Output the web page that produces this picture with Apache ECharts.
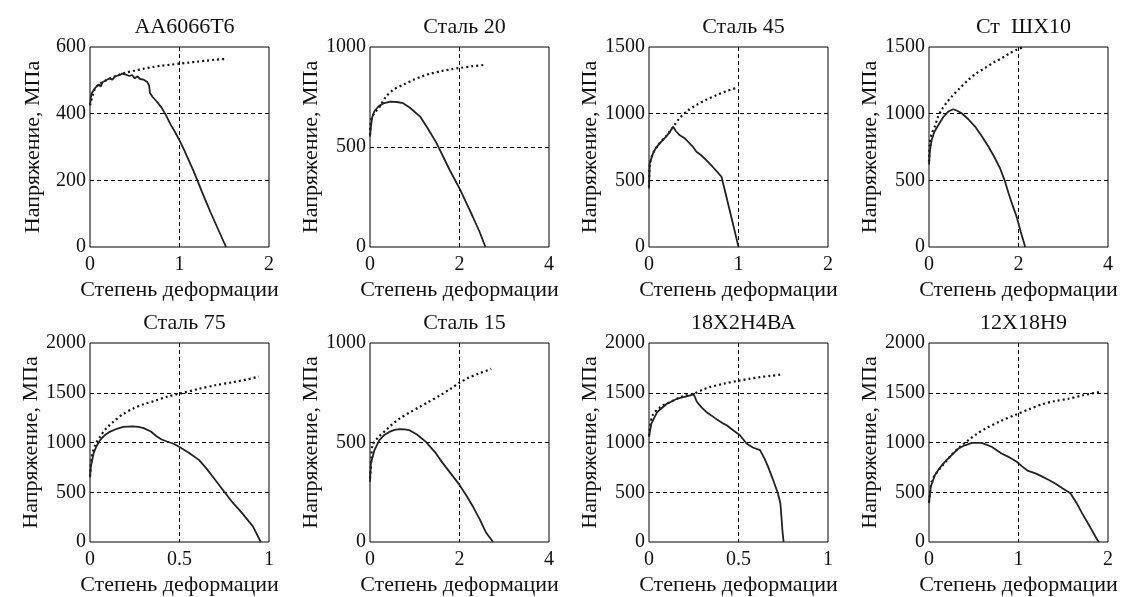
<!DOCTYPE html>
<html>
<head>
<meta charset="utf-8">
<script src="https://cdn.jsdelivr.net/npm/echarts@6/dist/echarts.min.js"></script>
<style>
  html, body { margin: 0; padding: 0; background: #fff; }
  #main { width: 1125px; height: 597px; }
</style>
</head>
<body>
<div id="main"></div>
<script>
// кривые: [степень деформации, напряжение МПа]
var titles = ['AA6066T6', 'Сталь 20', 'Сталь 45', 'Ст  ШХ10', 'Сталь 75', 'Сталь 15', '18Х2Н4ВА', '12Х18Н9'];
var xMax = [2, 4, 2, 4, 1, 4, 1, 2];
var xStep = [1, 2, 1, 2, 0.5, 2, 0.5, 1];
var yMax = [600, 1000, 1500, 1500, 2000, 1000, 2000, 2000];
var yStep = [200, 500, 500, 500, 500, 500, 500, 500];

var aa6066Solid = [[0,425],[0.01,450],[0.02,462],[0.04,470],[0.06,478],[0.08,472],[0.1,488],[0.12,481],[0.14,494],[0.16,489],[0.18,500],[0.2,496],[0.22,506],[0.25,502],[0.28,512],[0.3,508],[0.33,516],[0.36,520],[0.4,517],[0.44,513],[0.47,516],[0.5,506],[0.53,512],[0.56,504],[0.6,502],[0.64,495],[0.66,485],[0.67,462],[0.7,450],[0.75,435],[0.8,418],[0.85,395],[0.9,368],[0.95,345],[1.0,320],[1.05,292],[1.1,262],[1.15,232],[1.2,200],[1.25,166],[1.3,134],[1.35,102],[1.4,72],[1.45,42],[1.52,0]];
var aa6066Dot = [[0,425],[0.05,472],[0.1,488],[0.2,503],[0.3,514],[0.4,523],[0.5,529],[0.6,535],[0.7,540],[0.8,544],[0.9,547],[1.0,550],[1.1,553],[1.2,556],[1.3,559],[1.4,562],[1.52,564]];

var st20Solid = [[0,552],[0.02,600],[0.05,650],[0.1,680],[0.2,705],[0.3,718],[0.45,727],[0.6,725],[0.74,719],[0.9,695],[1.12,652],[1.3,590],[1.49,518],[1.65,445],[1.78,385],[1.9,335],[2.0,293],[2.15,222],[2.3,150],[2.45,75],[2.58,0]];
var st20Dot = [[0,560],[0.03,640],[0.1,670],[0.22,702],[0.35,750],[0.52,786],[0.75,812],[0.97,836],[1.15,852],[1.34,866],[1.6,880],[1.8,888],[2.0,895],[2.3,904],[2.57,911]];

var st45Solid = [[0,439],[0.008,627],[0.045,702],[0.08,745],[0.12,777],[0.19,828],[0.23,860],[0.27,903],[0.3,870],[0.34,840],[0.4,815],[0.45,780],[0.49,752],[0.53,715],[0.58,690],[0.64,652],[0.71,602],[0.76,565],[0.81,527],[0.86,390],[0.9,280],[0.95,140],[1.0,0]];
var st45Dot = [[0,450],[0.01,620],[0.05,710],[0.12,780],[0.19,830],[0.27,900],[0.34,965],[0.42,1016],[0.53,1065],[0.64,1104],[0.75,1138],[0.87,1170],[1.0,1199]];

var shx10Solid = [[0,620],[0.02,720],[0.06,803],[0.12,865],[0.21,915],[0.32,975],[0.43,1016],[0.54,1033],[0.63,1022],[0.73,1003],[0.88,958],[1.03,903],[1.18,830],[1.33,752],[1.46,675],[1.59,589],[1.7,490],[1.78,401],[1.87,310],[1.96,226],[2.05,115],[2.15,0]];
var shx10Dot = [[0,640],[0.02,778],[0.06,850],[0.13,903],[0.2,975],[0.28,1028],[0.4,1085],[0.51,1129],[0.7,1195],[0.88,1254],[1.05,1300],[1.25,1342],[1.45,1385],[1.63,1417],[1.8,1452],[1.96,1480],[2.12,1500]];

var st75Solid = [[0,650],[0.005,760],[0.02,890],[0.035,960],[0.056,1023],[0.08,1070],[0.11,1107],[0.15,1138],[0.185,1157],[0.24,1163],[0.27,1158],[0.3,1145],[0.34,1110],[0.37,1065],[0.4,1030],[0.43,1010],[0.47,985],[0.5,955],[0.55,900],[0.61,823],[0.65,740],[0.7,623],[0.75,505],[0.8,390],[0.85,290],[0.91,157],[0.954,0]];
var st75Dot = [[0,660],[0.01,857],[0.03,980],[0.056,1057],[0.09,1140],[0.13,1207],[0.18,1280],[0.24,1340],[0.3,1385],[0.37,1423],[0.43,1460],[0.5,1490],[0.61,1540],[0.7,1575],[0.8,1607],[0.88,1635],[0.944,1663]];

var st15Solid = [[0,303],[0.02,395],[0.1,462],[0.21,512],[0.32,538],[0.43,553],[0.55,563],[0.66,567],[0.77,566],[0.88,562],[1.05,540],[1.25,503],[1.45,452],[1.63,395],[1.82,340],[2.0,287],[2.15,235],[2.3,178],[2.45,115],[2.6,45],[2.75,0]];
var st15Dot = [[0,320],[0.03,420],[0.06,487],[0.2,530],[0.36,562],[0.5,592],[0.66,620],[0.88,650],[1.1,678],[1.3,703],[1.55,735],[1.8,770],[2.0,800],[2.2,825],[2.45,848],[2.71,870]];

var x2h4Solid = [[0,1057],[0.013,1190],[0.046,1307],[0.1,1390],[0.157,1440],[0.21,1463],[0.25,1483],[0.268,1407],[0.295,1350],[0.32,1307],[0.35,1270],[0.38,1230],[0.41,1195],[0.434,1173],[0.47,1123],[0.508,1073],[0.545,990],[0.58,950],[0.62,923],[0.645,840],[0.665,757],[0.69,640],[0.72,490],[0.734,390],[0.74,250],[0.745,123],[0.752,0]];
var x2h4Dot = [[0,1070],[0.02,1273],[0.065,1357],[0.11,1400],[0.157,1440],[0.2,1470],[0.25,1490],[0.3,1530],[0.34,1557],[0.42,1592],[0.508,1623],[0.56,1640],[0.62,1657],[0.68,1670],[0.74,1683]];

var x18h9Solid = [[0,390],[0.02,557],[0.067,673],[0.12,745],[0.18,807],[0.25,870],[0.33,940],[0.4,972],[0.48,997],[0.59,997],[0.7,957],[0.81,890],[0.9,850],[0.98,807],[1.04,760],[1.1,718],[1.19,690],[1.26,660],[1.34,623],[1.42,583],[1.49,540],[1.58,490],[1.65,390],[1.71,290],[1.8,150],[1.88,23],[1.9,0]];
var x18h9Dot = [[0,400],[0.03,607],[0.08,690],[0.14,757],[0.25,873],[0.35,960],[0.44,1023],[0.53,1085],[0.63,1140],[0.8,1215],[0.98,1283],[1.12,1335],[1.26,1383],[1.4,1415],[1.56,1440],[1.72,1475],[1.9,1507]];

var solids = [aa6066Solid, st20Solid, st45Solid, shx10Solid, st75Solid, st15Solid, x2h4Solid, x18h9Solid];
var dots = [aa6066Dot, st20Dot, st45Dot, shx10Dot, st75Dot, st15Dot, x2h4Dot, x18h9Dot];

var chart = echarts.init(document.getElementById('main'), null, {renderer: 'canvas'});
var font = 'Liberation Serif';
var gridLeft = [90, 370, 649, 929];
var gridTop = [47, 343];
var W = 179, H = 200;

function plain(v) { return String(v); }

var grid = [], xAxis = [], yAxis = [], series = [], title = [];
for (var i = 0; i < 8; i++) {
    var col = i % 4, row = Math.floor(i / 4);
    grid.push({
        left: gridLeft[col], top: gridTop[row], width: W, height: H,
        show: true, borderColor: '#000', borderWidth: 1, backgroundColor: 'transparent'
    });
    title.push({
        text: titles[i],
        left: gridLeft[col] + W / 2, top: gridTop[row] - 36,
        textAlign: 'center',
        textStyle: {fontFamily: font, fontSize: 22, fontWeight: 'normal', color: '#111'}
    });
    xAxis.push({
        type: 'value', gridIndex: i, min: 0, max: xMax[i], interval: xStep[i],
        name: 'Степень деформации', nameLocation: 'middle', nameGap: 32,
        nameTextStyle: {fontFamily: font, fontSize: 22, color: '#111'},
        axisLine: {show: false}, axisTick: {show: false},
        axisLabel: {fontFamily: font, fontSize: 20, color: '#111', margin: 8, formatter: plain},
        splitLine: {show: true, showMinLine: false, showMaxLine: false,
            lineStyle: {color: '#000', type: [4, 3], width: 1}}
    });
    yAxis.push({
        type: 'value', gridIndex: i, min: 0, max: yMax[i], interval: yStep[i],
        name: 'Напряжение, МПа', nameLocation: 'middle', nameGap: 46,
        nameTextStyle: {fontFamily: font, fontSize: 22, color: '#111'},
        axisLine: {show: false}, axisTick: {show: false},
        axisLabel: {fontFamily: font, fontSize: 20, color: '#111', margin: 4, formatter: plain},
        splitLine: {show: true, showMinLine: false, showMaxLine: false,
            lineStyle: {color: '#000', type: [4, 3], width: 1}}
    });
    series.push({
        type: 'line', xAxisIndex: i, yAxisIndex: i, data: dots[i],
        showSymbol: false, smooth: 0.3, silent: true,
        lineStyle: {color: '#111', width: 2.2, type: [2, 3]}
    });
    series.push({
        type: 'line', xAxisIndex: i, yAxisIndex: i, data: solids[i],
        showSymbol: false, silent: true,
        lineStyle: {color: '#222', width: 1.8}
    });
}

chart.setOption({
    animation: false,
    backgroundColor: '#fff',
    title: title,
    grid: grid,
    xAxis: xAxis,
    yAxis: yAxis,
    series: series
});
</script>
</body>
</html>
